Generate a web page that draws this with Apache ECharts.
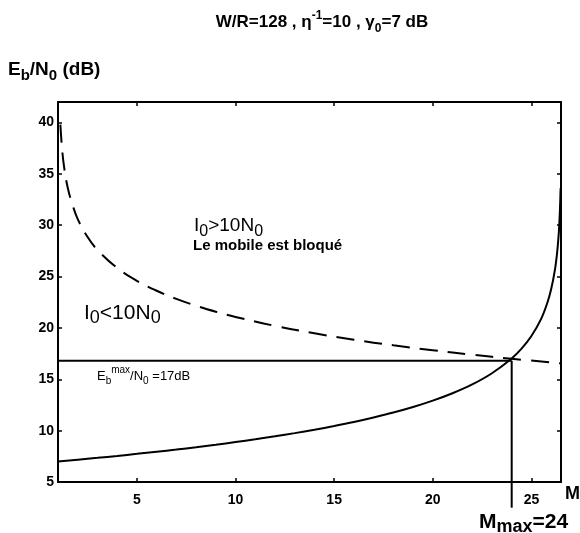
<!DOCTYPE html>
<html>
<head>
<meta charset="utf-8">
<script src="https://cdn.jsdelivr.net/npm/echarts@6/dist/echarts.min.js"></script>
<style>html,body{margin:0;padding:0;background:#fff}#c{width:580px;height:533px}</style>
</head>
<body>
<div id="c"></div>
<script>
// Solid curve: required Eb/N0 vs number of users M
const mSolid = [1,2,3,4,5,6,7,8,9,10,11,12,13,14,15,16,17,18,19,20,21,22,23,24,24.5,25,25.5,25.8,26,26.2,26.3,26.35,26.4,26.45,26.48];
const ebSolid = [7.0,7.17,7.35,7.54,7.74,7.95,8.16,8.39,8.63,8.89,9.16,9.45,9.76,10.09,10.45,10.84,11.28,11.76,12.30,12.92,13.64,14.50,15.59,17.03,17.98,19.21,20.91,22.4,23.76,25.76,27.27,28.3,29.6,31.7,33.6];
// Dashed curve: I0 = 10 N0 boundary
const mDash = [1.12,1.2,1.3,1.5,1.75,2,2.5,3,4,5,6,7,8,9,10,12,14,16,18,20,22,24,26.5];
const ebDash = [39.8,37.6,35.8,33.6,31.9,30.6,28.85,27.6,25.84,24.59,23.62,22.83,22.16,21.58,21.07,20.2,19.48,18.85,18.31,17.83,17.39,17.0,16.55];
// Eb max horizontal line and Mmax vertical line
const hLineM = [1, 24];
const hLineEb = [16.8, 16.8];
const vLineM = [24, 24];
const vLineEb = [16.8, 2.5];
// Ticks
const xTicks = [5, 10, 15, 20, 25];
const yMin = 5, yMax = 42, yStep = 5;
const xMin = 1, xMax = 26.5;

const zip = (a, b) => a.map((v, i) => [v, b[i]]);
const FONT = 'Liberation Sans, Arial, sans-serif';

const chart = echarts.init(document.getElementById('c'));
const axisLine = {show: true, lineStyle: {color: '#000', width: 2}};
const tick = {show: true, inside: true, length: 4, lineStyle: {color: '#000', width: 1.5}};

function txt(x, y, parts, size, weight, align, subScale) {
  const w = weight || 'normal';
  const ss = Math.round(size * (subScale || 0.72));
  const lh = size + 8;
  return {
    type: 'text', x: x, y: y, z: 100,
    style: {
      text: parts, fill: '#000', fontFamily: FONT, fontSize: size, fontWeight: w,
      align: align || 'left', verticalAlign: 'middle',
      rich: {
        n: {fontSize: size, fontWeight: w, fontFamily: FONT, lineHeight: lh, verticalAlign: 'middle'},
        sub: {fontSize: ss, fontWeight: w, fontFamily: FONT, lineHeight: lh, verticalAlign: 'bottom'},
        sup: {fontSize: ss, fontWeight: w, fontFamily: FONT, lineHeight: lh, verticalAlign: 'top'}
      }
    }
  };
}

chart.setOption({
  animation: false,
  backgroundColor: '#fff',
  grid: {left: 58, right: 19, top: 102, bottom: 51},
  xAxis: [
    {type: 'value', min: xMin, max: xMax, position: 'bottom', axisLine, splitLine: {show: false},
     axisTick: Object.assign({}, tick, {customValues: xTicks}),
     axisLabel: {customValues: xTicks, color: '#000', fontWeight: 'bold', fontSize: 14, fontFamily: FONT, margin: 11}},
    {type: 'value', min: xMin, max: xMax, position: 'top', axisLine, splitLine: {show: false},
     axisTick: Object.assign({}, tick, {customValues: xTicks}), axisLabel: {show: false}}
  ],
  yAxis: [
    {type: 'value', min: yMin, max: yMax, interval: yStep, position: 'left', axisLine, splitLine: {show: false},
     axisTick: tick,
     axisLabel: {color: '#000', fontWeight: 'bold', fontSize: 14, fontFamily: FONT, margin: 4,
       formatter: v => (v > 40 ? '' : v)}},
    {type: 'value', min: yMin, max: yMax, interval: yStep, position: 'right', axisLine, splitLine: {show: false},
     axisTick: tick, axisLabel: {show: false}}
  ],
  series: [
    {type: 'line', data: zip(mSolid, ebSolid), showSymbol: false, smooth: 0.3, lineStyle: {color: '#000', width: 2}},
    {type: 'line', data: zip(mDash, ebDash), showSymbol: false, smooth: 0.4, lineStyle: {color: '#000', width: 2, type: [18, 10]}},
    {type: 'line', data: zip(hLineM, hLineEb), showSymbol: false, lineStyle: {color: '#000', width: 2}},
    {type: 'line', data: zip(vLineM, vLineEb), showSymbol: false, clip: false, lineStyle: {color: '#000', width: 2}}
  ],
  graphic: [
    txt(322, 22, '{n|W/R=128 , η}{sup|-1}{n|=10 , γ}{sub|0}{n|=7 dB}', 17, 'bold', 'center'),
    txt(8, 70, '{n|E}{sub|b}{n|/N}{sub|0}{n| (dB)}', 19, 'bold', 'left', 0.8),
    txt(194, 226, '{n|I}{sub|0}{n|>10N}{sub|0}', 19, 'normal', 'left', 0.85),
    txt(193, 246, 'Le mobile est bloqué', 15, 'bold'),
    txt(84, 313, '{n|I}{sub|0}{n|<10N}{sub|0}', 21, 'normal', 'left', 0.85),
    txt(97, 376, '{n|E}{sub|b}{sup|max}{n|/N}{sub|0}{n| =17dB}', 13, 'normal', 'left', 0.8),
    txt(565, 494, 'M', 18, 'bold'),
    txt(479, 522, '{n|M}{sub|max}{n|=24}', 21, 'bold', 'left', 0.85)
  ]
});
</script>
</body>
</html>
